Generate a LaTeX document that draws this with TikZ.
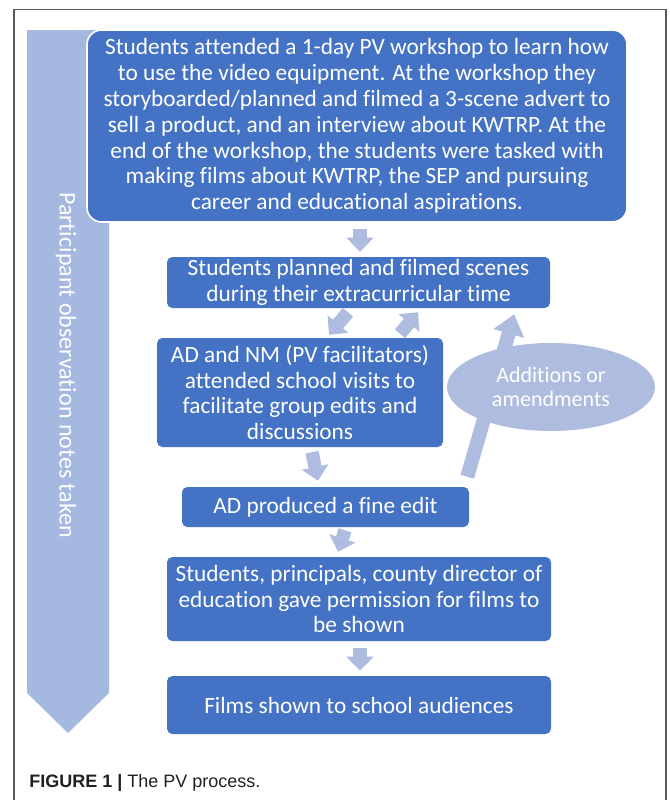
\documentclass[tikz,border=0pt]{standalone}
\usepackage{fontspec}
\setmainfont[Ligatures=NoCommon]{Carlito}
\newfontfamily\capfont{Liberation Sans}
\usetikzlibrary{arrows.meta,shapes.geometric,calc}
\definecolor{stepblue}{HTML}{4472C4}
\definecolor{paleband}{HTML}{A5B8E0}
\definecolor{palearrow}{HTML}{ADBCDF}
\definecolor{framegray}{HTML}{5A5A5A}
\definecolor{captext}{HTML}{231F20}
\begin{document}
\begin{tikzpicture}[x=0.75pt,y=-0.75pt,
  stepbox/.style={fill=stepblue, text=white, rounded corners=4pt, align=center,
    inner sep=0pt, font=\fontsize{17.5}{19.4}\selectfont},
  flowarrow/.style={draw=palearrow, line width=10pt,
    -{Triangle[width=20.5pt,length=10.5pt,line width=0pt]}},
  longarrow/.style={draw=palearrow, line width=10.5pt,
    -{Triangle[width=24pt,length=15pt,line width=0pt]}},
]
\useasboundingbox (0,0) rectangle (669,800);

% frame, open at the bottom
\draw[framegray, line width=1.1pt] (14,800) -- (14,9.5) -- (666,9.5) -- (666,800);

% observation band running down the left side
\fill[paleband] (27,30) -- (109,30) -- (109,693) -- (68,733) -- (27,693) -- cycle;
\node[rotate=-90, text=white, inner sep=0pt, font=\fontsize{18}{20}\selectfont]
  (obs) at (66,365) {Participant observation notes taken};

% process steps
\node[stepbox, rounded corners=11pt, draw=white, line width=1.2pt,
      minimum width=405pt, minimum height=144pt] (workshop) at (357,126)
  {Students attended a 1-day PV workshop to learn how\\
   to use the video equipment. At the workshop they\\
   storyboarded/planned and filmed a 3-scene advert to\\
   sell a product, and an interview about KWTRP. At the\\
   end of the workshop, the students were tasked with\\
   making films about KWTRP, the SEP and pursuing\\
   career and educational aspirations.};

\node[stepbox, minimum width=287.25pt, minimum height=38.25pt] (filming) at (358.5,282.5)
  {Students planned and filmed scenes\\ during their extracurricular time};

\node[stepbox, minimum width=214.5pt, minimum height=81.75pt] (visits) at (300,392.5)
  {AD and NM (PV facilitators)\\ attended school visits to\\
   facilitate group edits and\\ discussions};

\node[stepbox, minimum width=215.25pt, minimum height=30pt] (fineedit) at (325.5,507)
  {AD produced a fine edit};

\node[stepbox, minimum width=288pt, minimum height=63pt] (permission) at (359,599)
  {Students, principals, county director of\\
   education gave permission for films to\\ be shown};

\node[stepbox, minimum width=288pt, minimum height=43.5pt] (screening) at (359,705)
  {Films shown to school audiences};

% connectors between steps
\draw[flowarrow] ($(workshop.south)+(3,6)$) -- ($(filming.north)+(1.5,-5)$);
\draw[flowarrow] ($(filming.south)+(-10.5,4)$) -- ($(visits.north)+(29,-3)$);
\draw[flowarrow] ($(visits.north)+(100,-4)$) -- ($(filming.south)+(59.5,4)$);
\draw[flowarrow] ($(visits.south)+(12,5)$) -- ($(fineedit.north)+(-7.5,-6)$);
\draw[flowarrow] ($(fineedit.south)+(19.5,3)$) -- ($(permission.north)+(-21,-5)$);
\draw[flowarrow] ($(permission.south)+(1,7)$) -- ($(screening.north)+(1,-5)$);

% feedback loop from the fine edit back to filming
\draw[longarrow] ($(fineedit.north east)+(-2,-10)$) -- ($(filming.south east)+(-36,6)$);
\node[ellipse, fill=palearrow, text=white, inner sep=0pt, align=center,
      minimum width=156pt, minimum height=66pt,
      font=\fontsize{16.5}{17.5}\selectfont] (amend) at (551,387)
  {Additions or\\ amendments};

% caption
\node[anchor=base west, inner sep=0pt, text=captext, font=\capfont\fontsize{13.5}{15}\selectfont]
  (caption) at (29,787) {\textbf{FIGURE 1 |} The PV process.};
\end{tikzpicture}
\end{document}
